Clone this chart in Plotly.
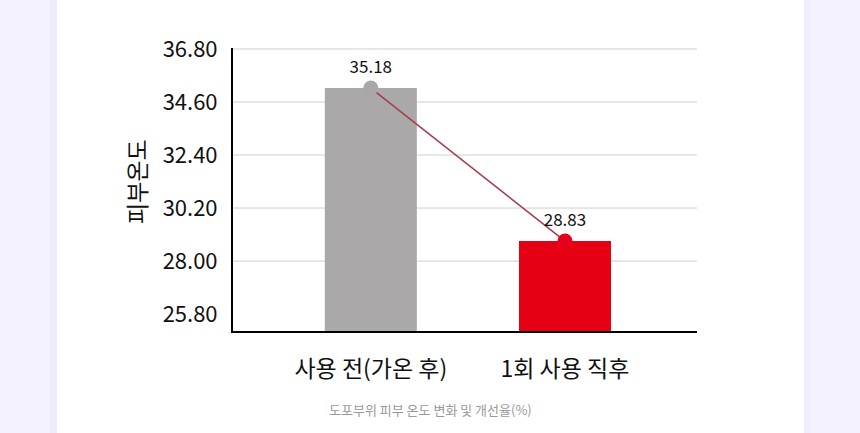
import plotly.graph_objects as go

categories = ["사용 전(가온 후)", "1회 사용 직후"]
values = [35.18, 28.83]
value_labels = ["35.18", "28.83"]
bar_colors = ["#aaa8a9", "#e60013"]
marker_colors = ["#a9a7a8", "#e4001a"]
y_ticks = [25.80, 28.00, 30.20, 32.40, 34.60, 36.80]
y_tick_text = ["25.80", "28.00", "30.20", "32.40", "34.60", "36.80"]
grid_ticks = [28.00, 30.20, 32.40, 34.60, 36.80]
y_title = "피부온도"
caption = "도포부위 피부 온도 변화 및 개선율(%)"

FONT = "Noto Sans CJK KR, Noto Sans, sans-serif"

fig = go.Figure()
fig.add_trace(go.Bar(
    x=categories, y=values, width=0.474,
    marker=dict(color=bar_colors, line=dict(width=0)),
    showlegend=False, hoverinfo="skip",
))
fig.add_trace(go.Scatter(
    x=categories, y=values, mode="lines+markers+text",
    line=dict(color="#a3404e", width=1.6),
    marker=dict(size=15, color=marker_colors, line=dict(width=0)),
    text=value_labels, textposition="top center",
    textfont=dict(family=FONT, size=17, color="#111111"),
    showlegend=False, hoverinfo="skip", cliponaxis=False,
))

W, H = 860, 433
L, R, T, B = 233, 697, 48, 331
pw, ph = R - L, B - T
Y_RANGE = [25.1, 36.84]

def px(x):
    return (x - L) / pw

def py(y):
    return (B - y) / ph

shapes = [
    dict(type="rect", xref="paper", yref="paper", x0=px(50), x1=px(57), y0=py(440), y1=py(-10),
         fillcolor="#eeecfb", line=dict(width=0), layer="below"),
    dict(type="rect", xref="paper", yref="paper", x0=px(804), x1=px(811), y0=py(440), y1=py(-10),
         fillcolor="#f0eefc", line=dict(width=0), layer="below"),
    dict(type="rect", xref="paper", yref="paper", x0=px(57), x1=px(804), y0=py(440), y1=py(-10),
         fillcolor="#ffffff", line=dict(width=0), layer="below"),
]
for g in grid_ticks:
    shapes.append(dict(type="line", xref="paper", yref="y", x0=0, x1=1, y0=g, y1=g,
                       line=dict(color="#cfcfcf", width=1), layer="below"))

fig.update_layout(
    width=W, height=H,
    margin=dict(l=L, r=W - R, t=T, b=H - B, pad=0),
    paper_bgcolor="#f4f3fd",
    plot_bgcolor="rgba(0,0,0,0)",
    font=dict(family=FONT, color="#111111"),
    shapes=shapes,
    xaxis=dict(
        range=[-0.71, 1.68], showgrid=False, zeroline=False,
        showline=True, linecolor="#000000", linewidth=2,
        ticks="", tickfont=dict(family=FONT, size=23, color="#111111"),
        ticklabelstandoff=16, fixedrange=True,
    ),
    yaxis=dict(
        range=Y_RANGE, tickvals=y_ticks, ticktext=y_tick_text,
        showgrid=False, zeroline=False,
        showline=True, linecolor="#000000", linewidth=2,
        ticks="", tickfont=dict(family=FONT, size=22, color="#111111"),
        ticklabelstandoff=9,
    ),
    annotations=[
        dict(text=y_title, xref="paper", yref="paper", x=px(136), y=py(182),
             xanchor="center", yanchor="middle", textangle=-90, showarrow=False,
             font=dict(family=FONT, size=23, color="#111111")),
        dict(text=caption, xref="paper", yref="paper", x=px(430), y=py(409),
             xanchor="center", yanchor="middle", showarrow=False,
             font=dict(family=FONT, size=13, color="#9a9a9a")),
    ],
)

fig.write_html("out.html")
